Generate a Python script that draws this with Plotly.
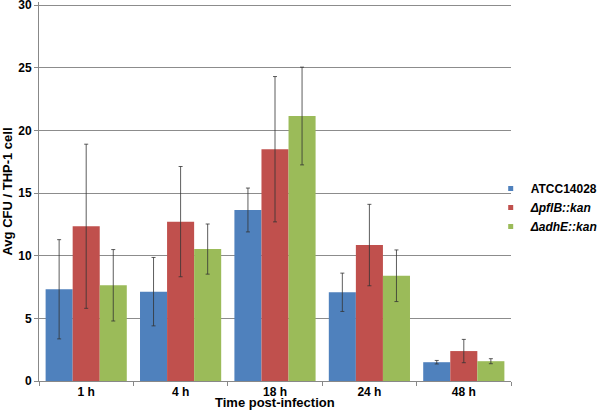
import plotly.graph_objects as go

categories = ["1 h", "4 h", "18 h", "24 h", "48 h"]
series_names = ["<b>ATCC14028</b>", "<b><i>ΔpflB::kan</i></b>", "<b><i>ΔadhE::kan</i></b>"]
atcc = [7.32, 7.13, 13.65, 7.08, 1.50]
atcc_err = [3.96, 2.73, 1.75, 1.53, 0.14]
pflb = [12.35, 12.72, 18.50, 10.85, 2.39]
pflb_err = [6.55, 4.40, 5.80, 3.25, 0.93]
adhe = [7.64, 10.53, 21.15, 8.40, 1.58]
adhe_err = [2.85, 2.00, 3.90, 2.06, 0.20]
colors = ["#4F81BD", "#C0504D", "#9BBB59"]

FONT = "Liberation Sans, Arial, sans-serif"
fig = go.Figure()
for name, vals, errs, col in zip(series_names, [atcc, pflb, adhe], [atcc_err, pflb_err, adhe_err], colors):
    fig.add_trace(go.Bar(
        x=categories, y=vals, name=name, marker_color=col, marker_line_width=0,
        showlegend=False,
        error_y=dict(type="data", array=errs, visible=True, color="#333333", thickness=0.8, width=2),
    ))
    fig.add_trace(go.Scatter(
        x=[None], y=[None], mode="markers", name=name,
        marker=dict(symbol="square", size=5, color=col),
    ))

fig.update_layout(
    width=600, height=412,
    margin=dict(l=39, r=89, t=2, b=31, autoexpand=False),
    paper_bgcolor="white", plot_bgcolor="white",
    barmode="group", bargap=0.14, bargroupgap=0,
    font=dict(family=FONT, size=12, color="black"),
    legend=dict(x=0.957, xanchor="left", y=0.458, yanchor="middle",
                font=dict(family=FONT, size=12, color="black"),
                bgcolor="rgba(0,0,0,0)", itemwidth=30, tracegroupgap=0),
    annotations=[dict(text="<b>Time post-infection</b>", xref="paper", yref="paper",
                      x=0.5, y=-0.058, xanchor="center", yanchor="middle",
                      showarrow=False, font=dict(family=FONT, size=13, color="black"))],
)
fig.update_xaxes(
    automargin=False,
    showline=True, linecolor="#888888", linewidth=1,
    ticks="outside", tickson="boundaries", ticklen=4, tickcolor="#888888",
    tickfont=dict(family=FONT, size=12, weight="bold"),
    showgrid=False,
)
fig.update_yaxes(
    automargin=False,
    range=[0, 30.25], tickvals=[0, 5, 10, 15, 20, 25, 30],
    ticklabeloverflow="allow",
    showline=True, linecolor="#888888", linewidth=1,
    ticks="outside", ticklen=4, tickcolor="#888888",
    showgrid=True, gridcolor="#8c8c8c", gridwidth=1, zeroline=False,
    tickfont=dict(family=FONT, size=12, weight="bold"),
    title=dict(text="<b>Avg CFU / THP-1 cell</b>", font=dict(family=FONT, size=13), standoff=4),
)
fig.write_html("out.html", config={"displayModeBar": False},
               post_script="document.body.style.margin='0';document.body.style.padding='0';")
